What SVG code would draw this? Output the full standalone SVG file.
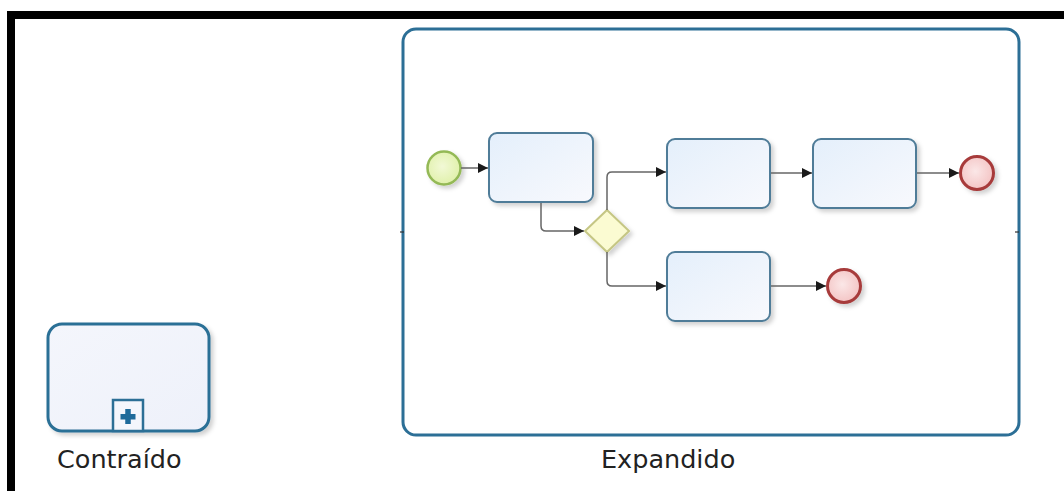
<svg xmlns="http://www.w3.org/2000/svg" width="1064" height="491" viewBox="0 0 1064 491">
<defs>
  <linearGradient id="taskFill" x1="0" y1="0" x2="1" y2="1">
    <stop offset="0" stop-color="#e4effb"/>
    <stop offset="1" stop-color="#f8f9fd"/>
  </linearGradient>
  <linearGradient id="subFill" x1="0" y1="0" x2="1" y2="1">
    <stop offset="0" stop-color="#f4f6fc"/>
    <stop offset="1" stop-color="#eef1fa"/>
  </linearGradient>
  <radialGradient id="startFill" cx="0.45" cy="0.45" r="0.6">
    <stop offset="0" stop-color="#f2f9d6"/>
    <stop offset="1" stop-color="#dff0a8"/>
  </radialGradient>
  <radialGradient id="endFill" cx="0.45" cy="0.45" r="0.6">
    <stop offset="0" stop-color="#fbe7e7"/>
    <stop offset="1" stop-color="#f3c2c2"/>
  </radialGradient>
  <filter id="shadow" x="-20%" y="-20%" width="150%" height="150%">
    <feDropShadow dx="3" dy="3" stdDeviation="2" flood-color="#000" flood-opacity="0.18"/>
  </filter>
  <marker id="arrow" viewBox="0 0 10 10" refX="10" refY="5" markerWidth="10" markerHeight="10" markerUnits="userSpaceOnUse" orient="auto">
    <path d="M0,0 L10,5 L0,10 z" fill="#1a1a1a"/>
  </marker>
</defs>
<style>
  .task { fill: url(#taskFill); stroke: #4f7c98; stroke-width: 2; filter: url(#shadow); }
  .sub { stroke: #2c6f96; stroke-width: 3; }
  .start { fill: url(#startFill); stroke: #94b957; stroke-width: 2.5; filter: url(#shadow); }
  .end { fill: url(#endFill); stroke: #a73a3a; stroke-width: 3; filter: url(#shadow); }
  .gw { fill: #fbfbd2; stroke: #c5c684; stroke-width: 2; filter: url(#shadow); }
  .flow { fill: none; stroke: #666; stroke-width: 1.5; marker-end: url(#arrow); }
  .label { font-family: "DejaVu Sans", Verdana, sans-serif; font-size: 25.5px; fill: #222; }
</style>

<rect width="1064" height="491" fill="#ffffff"/>
<rect x="7" y="11" width="1057" height="8" fill="#000"/>
<rect x="7" y="11" width="8" height="480" fill="#000"/>

<g id="collapsed">
  <rect class="sub" x="48" y="324" width="161" height="107" rx="14" fill="url(#subFill)" filter="url(#shadow)"/>
  <rect x="113" y="400" width="30" height="31" fill="#f4f6fc" stroke="#2c6f96" stroke-width="2.5"/>
  <rect x="120.5" y="414" width="15" height="5.5" fill="#1e6a9a"/>
  <rect x="125.25" y="409" width="5.5" height="15" fill="#1e6a9a"/>
  <text class="label" x="57" y="468">Contraído</text>
</g>

<g id="expanded">
  <rect class="sub" x="403" y="29" width="616" height="406" rx="13" fill="#ffffff"/>
  <line x1="400" y1="232" x2="404" y2="232" stroke="#333" stroke-width="1.2"/>
  <line x1="1015" y1="232" x2="1019" y2="232" stroke="#333" stroke-width="1.2"/>
  <text class="label" x="601" y="468">Expandido</text>
</g>

<g id="start"><circle class="start" cx="444" cy="168" r="16.5"/></g>
<g id="task1"><rect class="task" x="489" y="133" width="104" height="69" rx="8"/></g>
<g id="gateway"><polygon class="gw" points="607,210 629,231 607,252 585,231"/></g>
<g id="task2"><rect class="task" x="667" y="139" width="103" height="69" rx="8"/></g>
<g id="task3"><rect class="task" x="813" y="139" width="103" height="69" rx="8"/></g>
<g id="end1"><circle class="end" cx="977" cy="173" r="16.5"/></g>
<g id="task4"><rect class="task" x="667" y="252" width="103" height="69" rx="8"/></g>
<g id="end2"><circle class="end" cx="844" cy="286" r="16.5"/></g>

<g id="connectors">
  <path class="flow" d="M461,168 L488,168"/>
  <path class="flow" d="M541,203 L541,226 Q541,231 546,231 L584,231"/>
  <path class="flow" d="M607,210 L607,177 Q607,172 612,172 L666,172"/>
  <path class="flow" d="M607,252 L607,281 Q607,286 612,286 L666,286"/>
  <path class="flow" d="M771,173 L812,173"/>
  <path class="flow" d="M917,173 L959,173"/>
  <path class="flow" d="M771,286 L826,286"/>
</g>
</svg>
